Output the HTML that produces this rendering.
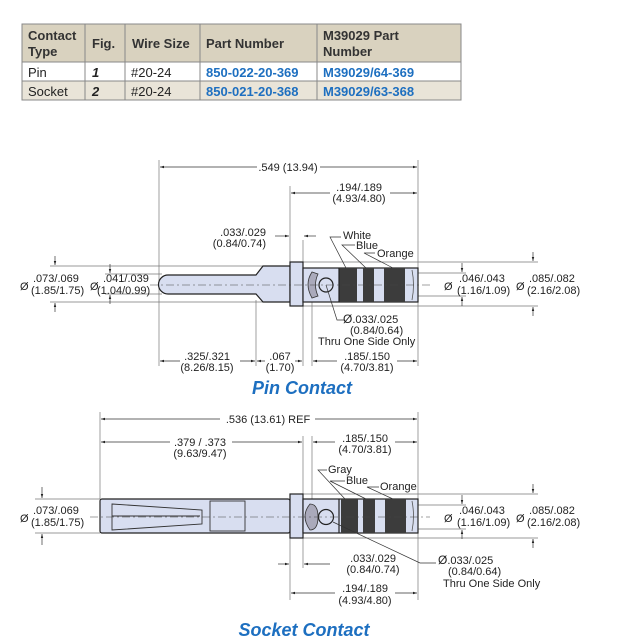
<!DOCTYPE html>
<html><head><meta charset="utf-8"><style>
body{margin:0;background:#fff;}
svg{display:block;font-family:"Liberation Sans",Arial,sans-serif;}
.t{font-size:11px;fill:#222;}
.th{font-size:13px;font-weight:bold;fill:#333;}
.td{font-size:13px;fill:#222;}
.bl{font-size:13px;font-weight:bold;fill:#1d6fc0;}
.dim{stroke:#333;stroke-width:0.7;fill:none;}
.ext{stroke:#777;stroke-width:0.7;fill:none;}
.ln{stroke:#222;stroke-width:1.2;}
.body{fill:#d8def0;stroke:#222;stroke-width:1.2;}
.dark{fill:#3c3c3c;}
.cl{stroke:#444;stroke-width:0.6;stroke-dasharray:8,3,2,3;}
.title{font-size:18px;font-weight:bold;font-style:italic;fill:#1d6fc0;}
</style></head><body>
<svg width="627" height="642" viewBox="0 0 627 642" xmlns="http://www.w3.org/2000/svg">
<defs>
<marker id="a" viewBox="0 0 10 10" refX="10" refY="5" markerWidth="6" markerHeight="6" orient="auto-start-reverse"><path d="M0,2 L10,5 L0,8z" fill="#222"/></marker>
</defs>
<!-- TABLE -->
<rect x="22" y="24" width="439" height="38" fill="#d9d2bf"/>
<rect x="22" y="81" width="439" height="19" fill="#e9e4d8"/>
<g stroke="#888" stroke-width="1" fill="none">
<rect x="22" y="24" width="439" height="76"/>
<line x1="22" y1="62" x2="461" y2="62"/><line x1="22" y1="81" x2="461" y2="81"/>
<line x1="85" y1="24" x2="85" y2="100"/><line x1="125" y1="24" x2="125" y2="100"/>
<line x1="200" y1="24" x2="200" y2="100"/><line x1="317" y1="24" x2="317" y2="100"/>
</g>
<text class="th" x="28" y="40">Contact</text><text class="th" x="28" y="56">Type</text>
<text class="th" x="92" y="48">Fig.</text><text class="th" x="132" y="48">Wire Size</text>
<text class="th" x="206" y="48">Part Number</text>
<text class="th" x="323" y="40">M39029  Part</text><text class="th" x="323" y="56">Number</text>
<text class="td" x="28" y="77">Pin</text><text class="td" x="92" y="77" font-style="italic" font-weight="bold">1</text>
<text class="td" x="131" y="77">#20-24</text><text class="bl" x="206" y="77">850-022-20-369</text><text class="bl" x="323" y="77">M39029/64-369</text>
<text class="td" x="28" y="96">Socket</text><text class="td" x="92" y="96" font-style="italic" font-weight="bold">2</text>
<text class="td" x="131" y="96">#20-24</text><text class="bl" x="206" y="96">850-021-20-368</text><text class="bl" x="323" y="96">M39029/63-368</text>

<!-- PIN CONTACT -->
<g>
<!-- extension lines -->
<line class="ext" x1="159" y1="160" x2="159" y2="366"/>
<line class="ext" x1="418" y1="160" x2="418" y2="366"/>
<line class="ext" x1="290" y1="186" x2="290" y2="262"/>
<line class="ext" x1="303" y1="240" x2="303" y2="366"/>
<line class="ext" x1="256" y1="300" x2="256" y2="366"/>
<line class="ext" x1="312" y1="300" x2="312" y2="366"/>
<line class="ext" x1="50" y1="266" x2="263" y2="266"/>
<line class="ext" x1="50" y1="302" x2="263" y2="302"/>
<line class="ext" x1="105" y1="274" x2="162" y2="274"/>
<line class="ext" x1="105" y1="294" x2="162" y2="294"/>
<line class="ext" x1="303" y1="262" x2="538" y2="262"/>
<line class="ext" x1="303" y1="306" x2="538" y2="306"/>
<line class="ext" x1="418" y1="273" x2="466" y2="273"/>
<line class="ext" x1="418" y1="296" x2="466" y2="296"/>
<!-- dims -->
<line class="dim" x1="160" y1="167" x2="257" y2="167" marker-start="url(#a)"/>
<line class="dim" x1="320" y1="167" x2="417" y2="167" marker-end="url(#a)"/>
<text class="t" x="288" y="171" text-anchor="middle">.549 (13.94)</text>
<line class="dim" x1="291" y1="193" x2="330" y2="193" marker-start="url(#a)"/>
<line class="dim" x1="390" y1="193" x2="417" y2="193" marker-end="url(#a)"/>
<text class="t" x="359" y="191" text-anchor="middle">.194/.189</text>
<text class="t" x="359" y="202" text-anchor="middle">(4.93/4.80)</text>
<line class="dim" x1="275" y1="236" x2="289" y2="236" marker-end="url(#a)"/>
<line class="dim" x1="316" y1="236" x2="304" y2="236" marker-end="url(#a)"/>
<text class="t" x="266" y="236" text-anchor="end">.033/.029</text>
<text class="t" x="266" y="247" text-anchor="end">(0.84/0.74)</text>
<line class="dim" x1="160" y1="361" x2="255" y2="361" marker-start="url(#a)" marker-end="url(#a)"/>
<line class="dim" x1="257" y1="361" x2="302" y2="361" marker-start="url(#a)" marker-end="url(#a)"/>
<line class="dim" x1="313" y1="361" x2="417" y2="361" marker-start="url(#a)" marker-end="url(#a)"/>
<rect x="180" y="352" width="60" height="22" fill="#fff"/>
<text class="t" x="207" y="360" text-anchor="middle">.325/.321</text>
<text class="t" x="207" y="371" text-anchor="middle">(8.26/8.15)</text>
<rect x="265" y="352" width="30" height="22" fill="#fff"/>
<text class="t" x="280" y="360" text-anchor="middle">.067</text>
<text class="t" x="280" y="371" text-anchor="middle">(1.70)</text>
<rect x="337" y="352" width="60" height="22" fill="#fff"/>
<text class="t" x="367" y="360" text-anchor="middle">.185/.150</text>
<text class="t" x="367" y="371" text-anchor="middle">(4.70/3.81)</text>
<!-- left dia -->
<line class="dim" x1="55" y1="256" x2="55" y2="265" marker-end="url(#a)"/>
<line class="dim" x1="55" y1="312" x2="55" y2="303" marker-end="url(#a)"/>
<line class="dim" x1="110" y1="264" x2="110" y2="273" marker-end="url(#a)"/>
<line class="dim" x1="110" y1="304" x2="110" y2="295" marker-end="url(#a)"/>
<text class="t" x="20" y="290" font-size="12">Ø</text>
<text class="t" x="33" y="282">.073/.069</text><text class="t" x="31" y="294">(1.85/1.75)</text>
<text class="t" x="90" y="290" font-size="12">Ø</text>
<text class="t" x="103" y="282">.041/.039</text><text class="t" x="97" y="294">(1.04/0.99)</text>
<!-- right dia -->
<line class="dim" x1="462" y1="263" x2="462" y2="272" marker-end="url(#a)"/>
<line class="dim" x1="462" y1="306" x2="462" y2="297" marker-end="url(#a)"/>
<line class="dim" x1="533" y1="252" x2="533" y2="261" marker-end="url(#a)"/>
<line class="dim" x1="533" y1="316" x2="533" y2="307" marker-end="url(#a)"/>
<text class="t" x="444" y="290" font-size="12">Ø</text>
<text class="t" x="459" y="282">.046/.043</text><text class="t" x="457" y="294">(1.16/1.09)</text>
<text class="t" x="516" y="290" font-size="12">Ø</text>
<text class="t" x="529" y="282">.085/.082</text><text class="t" x="527" y="294">(2.16/2.08)</text>
<!-- part -->
<path class="body" d="M256,275 L168,275 A9.5,9.5 0 0 0 168,294 L256,294 L263,302 L290,302 L290,266 L263,266 Z"/>
<rect class="body" x="290" y="262" width="13" height="44"/>
<rect class="body" x="303" y="268" width="115" height="34"/>
<rect class="dark" x="339" y="268" width="18" height="34"/>
<rect class="dark" x="363" y="268" width="11" height="34"/>
<rect class="dark" x="384" y="268" width="21" height="34"/>
<line class="ln" x1="339" y1="268" x2="339" y2="302"/>
<path d="M412,270 q3,15 0,30" stroke="#555" fill="none" stroke-width="0.8"/>
<path d="M312,272 q-8,12 0,26 l6,-2 q-5,-11 0,-22z" fill="#aab" stroke="#333" stroke-width="0.8"/>
<circle cx="326" cy="285" r="7" fill="#d8def0" stroke="#222" stroke-width="1.2"/>
<line class="cl" x1="150" y1="285" x2="430" y2="285"/>
<!-- color labels -->
<polyline class="dim" points="341,237 330,237 346,268"/><text class="t" x="343" y="239">White</text>
<polyline class="dim" points="355,245 342,245 366,268"/><text class="t" x="356" y="249">Blue</text>
<polyline class="dim" points="375,253 364,253 393,268"/><text class="t" x="377" y="257">Orange</text>
<polyline class="dim" points="326,285 337,320 344,320"/>
<text class="t" x="343" y="323"><tspan font-size="12">Ø</tspan>.033/.025</text>
<text class="t" x="350" y="334">(0.84/0.64)</text>
<text class="t" x="318" y="345">Thru One Side Only</text>
<text class="title" x="302" y="394" text-anchor="middle">Pin Contact</text>
</g>

<!-- SOCKET CONTACT -->
<g>
<line class="ext" x1="100" y1="412" x2="100" y2="499"/>
<line class="ext" x1="418" y1="412" x2="418" y2="600"/>
<line class="ext" x1="303" y1="436" x2="303" y2="494"/>
<line class="ext" x1="312" y1="436" x2="312" y2="499"/>
<line class="ext" x1="290" y1="538" x2="290" y2="600"/>
<line class="ext" x1="303" y1="538" x2="303" y2="568"/>
<line class="ext" x1="303" y1="494" x2="538" y2="494"/>
<line class="ext" x1="303" y1="538" x2="538" y2="538"/>
<line class="ext" x1="418" y1="505" x2="466" y2="505"/>
<line class="ext" x1="418" y1="529" x2="466" y2="529"/>
<line class="ext" x1="35" y1="499" x2="100" y2="499"/>
<line class="ext" x1="35" y1="533" x2="100" y2="533"/>
<line class="dim" x1="101" y1="419" x2="220" y2="419" marker-start="url(#a)"/>
<line class="dim" x1="315" y1="419" x2="417" y2="419" marker-end="url(#a)"/>
<text class="t" x="268" y="423" text-anchor="middle">.536 (13.61) REF</text>
<line class="dim" x1="101" y1="442" x2="170" y2="442" marker-start="url(#a)"/>
<line class="dim" x1="232" y1="442" x2="302" y2="442" marker-end="url(#a)"/>
<text class="t" x="200" y="446" text-anchor="middle">.379 / .373</text>
<text class="t" x="200" y="457" text-anchor="middle">(9.63/9.47)</text>
<line class="dim" x1="313" y1="442" x2="335" y2="442" marker-start="url(#a)"/>
<line class="dim" x1="395" y1="442" x2="417" y2="442" marker-end="url(#a)"/>
<text class="t" x="365" y="442" text-anchor="middle">.185/.150</text>
<text class="t" x="365" y="453" text-anchor="middle">(4.70/3.81)</text>
<line class="dim" x1="278" y1="564" x2="289" y2="564" marker-end="url(#a)"/>
<line class="dim" x1="330" y1="564" x2="304" y2="564" marker-end="url(#a)"/>
<text class="t" x="373" y="562" text-anchor="middle">.033/.029</text>
<text class="t" x="373" y="573" text-anchor="middle">(0.84/0.74)</text>
<line class="dim" x1="291" y1="593" x2="417" y2="593" marker-start="url(#a)" marker-end="url(#a)"/>
<rect x="335" y="582" width="60" height="22" fill="#fff"/>
<text class="t" x="365" y="592" text-anchor="middle">.194/.189</text>
<text class="t" x="365" y="604" text-anchor="middle">(4.93/4.80)</text>
<line class="dim" x1="42" y1="487" x2="42" y2="498" marker-end="url(#a)"/>
<line class="dim" x1="42" y1="545" x2="42" y2="534" marker-end="url(#a)"/>
<text class="t" x="20" y="522" font-size="12">Ø</text>
<text class="t" x="33" y="514">.073/.069</text><text class="t" x="31" y="526">(1.85/1.75)</text>
<line class="dim" x1="462" y1="495" x2="462" y2="504" marker-end="url(#a)"/>
<line class="dim" x1="462" y1="539" x2="462" y2="530" marker-end="url(#a)"/>
<line class="dim" x1="533" y1="484" x2="533" y2="493" marker-end="url(#a)"/>
<line class="dim" x1="533" y1="548" x2="533" y2="539" marker-end="url(#a)"/>
<text class="t" x="444" y="522" font-size="12">Ø</text>
<text class="t" x="459" y="514">.046/.043</text><text class="t" x="457" y="526">(1.16/1.09)</text>
<text class="t" x="516" y="522" font-size="12">Ø</text>
<text class="t" x="529" y="514">.085/.082</text><text class="t" x="527" y="526">(2.16/2.08)</text>
<!-- part -->
<rect class="body" x="100" y="499" width="190" height="34" rx="2"/>
<path d="M112,504 L202,510 L202,524 L112,530 Z M112,516 L200,516" fill="none" stroke="#333" stroke-width="0.9"/>
<rect x="210" y="501" width="35" height="30" fill="none" stroke="#333" stroke-width="0.9"/>
<rect class="body" x="290" y="494" width="13" height="44"/>
<rect class="body" x="303" y="499" width="115" height="34"/>
<rect class="dark" x="341" y="499" width="17" height="34"/>
<rect class="dark" x="363" y="499" width="12" height="34"/>
<rect class="dark" x="385" y="499" width="21" height="34"/>
<line class="ln" x1="339" y1="499" x2="339" y2="533"/>
<path d="M412,501 q3,15 0,30" stroke="#555" fill="none" stroke-width="0.8"/>
<path d="M310,504 q-10,12 0,26 q8,0 8,-13 q0,-13 -8,-13z" fill="#aab" stroke="#333" stroke-width="0.8"/>
<circle cx="326" cy="517" r="7.5" fill="#d8def0" stroke="#222" stroke-width="1.2"/>
<line class="cl" x1="90" y1="517" x2="430" y2="517"/>
<polyline class="dim" points="327,470 318,470 345,499"/><text class="t" x="328" y="473">Gray</text>
<polyline class="dim" points="345,481 330,481 366,499"/><text class="t" x="346" y="484">Blue</text>
<polyline class="dim" points="379,487 367,487 393,499"/><text class="t" x="380" y="490">Orange</text>
<polyline class="dim" points="333,522 420,563 436,563"/>
<text class="t" x="438" y="564"><tspan font-size="12">Ø</tspan>.033/.025</text>
<text class="t" x="448" y="575">(0.84/0.64)</text>
<text class="t" x="443" y="587">Thru One Side Only</text>
<text class="title" x="304" y="636" text-anchor="middle">Socket Contact</text>
</g>
</svg>
</body></html>
